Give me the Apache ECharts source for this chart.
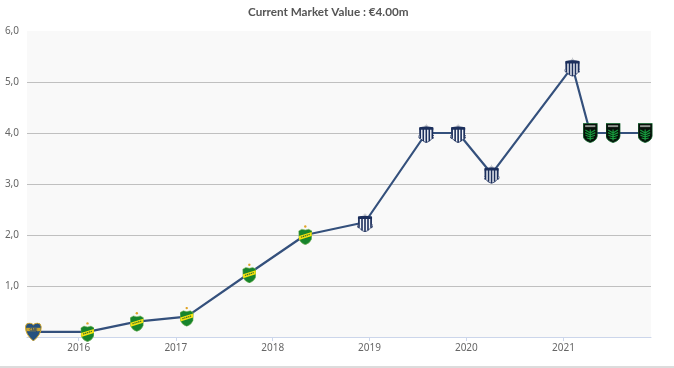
<!DOCTYPE html>
<html>
<head>
<meta charset="utf-8">
<title>Market value</title>
<script src="https://cdn.jsdelivr.net/npm/echarts@6/dist/echarts.min.js"></script>
<style>
  html, body { margin: 0; padding: 0; background: #fff; overflow: hidden; }
  #chart { width: 674px; height: 368px; }
  #rule { position: absolute; left: 0; top: 366px; width: 674px; height: 2px; background: #dcdcdc; }
</style>
</head>
<body>
<div id="chart"></div>
<div id="rule"></div>
<script>
const chartTitle = 'Current Market Value : €4.00m';
const dates = ['2015-07-14', '2016-02-03', '2016-08-07', '2017-02-11', '2017-10-05', '2018-05-04', '2018-12-15',
               '2019-08-03', '2019-12-01', '2020-04-05', '2021-02-04', '2021-04-12', '2021-07-07', '2021-11-05'];
const values = [0.1, 0.1, 0.3, 0.4, 1.25, 2, 2.25, 4, 4, 3.2, 5.3, 4, 4, 4];
const clubs = ['boca', 'defensa', 'defensa', 'defensa', 'defensa', 'defensa', 'talleres',
               'talleres', 'talleres', 'talleres', 'talleres', 'austin', 'austin', 'austin'];

// small hand drawn crests, one per club
const crests = {
  boca: { size: [17, 19], svg: `<svg xmlns="http://www.w3.org/2000/svg" width="68" height="76" viewBox="0 0 17 19">
    <path d="M.6 4.5 Q.8 1 4.2 .7 Q7 .6 8.5 2.4 Q10 .6 12.8 .7 Q16.2 1 16.4 4.5 Q16.6 12 8.5 18.6 Q.4 12 .6 4.5 Z" fill="#25517f" stroke="#d8ab2c" stroke-width="1"/>
    <rect x="1.4" y="5.4" width="14.2" height="3.4" fill="#c9a52e"/>
    <text x="8.5" y="8.2" font-size="3" font-weight="bold" font-family="DejaVu Sans" text-anchor="middle" fill="#1d3f72">CABJ</text>
  </svg>` },
  defensa: { size: [14, 20], svg: `<svg xmlns="http://www.w3.org/2000/svg" width="56" height="80" viewBox="0 0 14 20">
    <circle cx="7" cy="1.5" r="1.2" fill="#e0a52a"/>
    <path d="M.3 6 L3.5 4.2 L7 5 L10.5 4.2 L13.7 6 L13.4 14 Q11.5 18.4 7 19.8 Q2.5 18.4 .6 14 Z" fill="#17842c" stroke="#8fbf6a" stroke-width=".6"/>
    <path d="M.6 11 L13.4 7 L13.4 11 L.8 15 Z" fill="#f5e20f"/>
    <path d="M2.6 12.2 L11.4 9.4" stroke="#35702a" stroke-width="1.2" stroke-dasharray="1.4 .6"/>
  </svg>` },
  talleres: { size: [16, 20], svg: `<svg xmlns="http://www.w3.org/2000/svg" width="64" height="80" viewBox="0 0 16 20">
    <path d="M8 .4 L8.6 2.2 L10 2.2 L8.9 3.2 L7.1 3.2 L6 2.2 L7.4 2.2 Z" fill="#c4c7cc"/>
    <path d="M1.4 5 Q8 3.2 14.6 5 L14.4 11.6 L16 13.4 Q15.8 15.6 13.6 15.8 Q11 18.8 8 19.6 Q5 18.8 2.4 15.8 Q.2 15.6 0 13.4 L1.6 11.6 Z" fill="#f4f6fa" stroke="#1c2f5c" stroke-width=".8"/>
    <path d="M1 4.2 Q8 3 15 4.2 L15 6.8 L1 6.8 Z" fill="#1c2f5c"/>
    <path d="M2 6 V15.4 M5 6 V18 M8 6 V19.4 M11 6 V18 M14 6 V15.4" stroke="#1c2f5c" stroke-width="1.6"/>
  </svg>` },
  austin: { size: [15, 20], svg: `<svg xmlns="http://www.w3.org/2000/svg" width="60" height="80" viewBox="0 0 15 20">
    <path d="M.4 .4 H14.6 V13 Q14 17.6 7.5 19.6 Q1 17.6 .4 13 Z" fill="#07100a" stroke="#0f6a2c" stroke-width=".8"/>
    <rect x="2.4" y="2.2" width="10.2" height="1.9" fill="#8f968f"/>
    <path d="M7.5 6.5 V17.5 M7.5 10 L2.6 7 M7.5 10 L12.4 7 M7.5 12 L2.4 9.6 M7.5 12 L12.6 9.6 M7.5 14 L2.8 12.2 M7.5 14 L12.2 12.2 M7.5 16 L4 15 M7.5 16 L11 15" stroke="#169a3c" stroke-width="1.2"/>
  </svg>` }
};

function crestSymbol(name) {
  return 'image://data:image/svg+xml;charset=utf-8,' + encodeURIComponent(crests[name].svg);
}

const fontName = '"Noto Sans", "Open Sans", sans-serif';
const chart = echarts.init(document.getElementById('chart'), null, { renderer: 'canvas' });

chart.setOption({
  animation: false,
  backgroundColor: '#fff',
  title: {
    text: chartTitle,
    left: 248,
    top: 6,
    padding: 0,
    textStyle: { fontFamily: 'Lato, ' + fontName, fontSize: 11.7, fontWeight: 700, color: '#555' }
  },
  grid: { left: 27, right: 23, top: 31, bottom: 31, show: true, backgroundColor: '#f9f9f9', borderWidth: 0 },
  xAxis: {
    type: 'time',
    min: '2015-06-20',
    max: '2021-11-27',
    minInterval: 365 * 24 * 3600 * 1000,
    axisLine: { lineStyle: { color: '#ccd6eb', width: 1 } },
    axisTick: { show: true, length: 4, lineStyle: { color: '#ccd6eb' } },
    axisLabel: {
      formatter: '{yyyy}', fontFamily: fontName, fontSize: 10, color: '#666', margin: 6,
      hideOverlap: false, showMinLabel: false, showMaxLabel: false
    },
    splitLine: { show: false }
  },
  yAxis: {
    type: 'value',
    min: 0,
    max: 6,
    interval: 1,
    axisLine: { show: false },
    axisTick: { show: false },
    axisLabel: {
      fontFamily: fontName, fontSize: 10, color: '#666', margin: 8, padding: [4, 0, 0, 0],
      formatter: v => v === 0 ? '' : v.toFixed(1).replace('.', ',')
    },
    splitLine: { showMaxLine: false, lineStyle: { color: '#c0c0c0', width: 1 } }
  },
  series: [{
    type: 'line',
    clip: false,
    lineStyle: { color: '#34507c', width: 2.2 },
    itemStyle: { color: '#34507c' },
    data: dates.map((d, i) => ({
      value: [d, values[i]],
      symbol: crestSymbol(clubs[i]),
      symbolSize: crests[clubs[i]].size
    }))
  }]
});
</script>
</body>
</html>
